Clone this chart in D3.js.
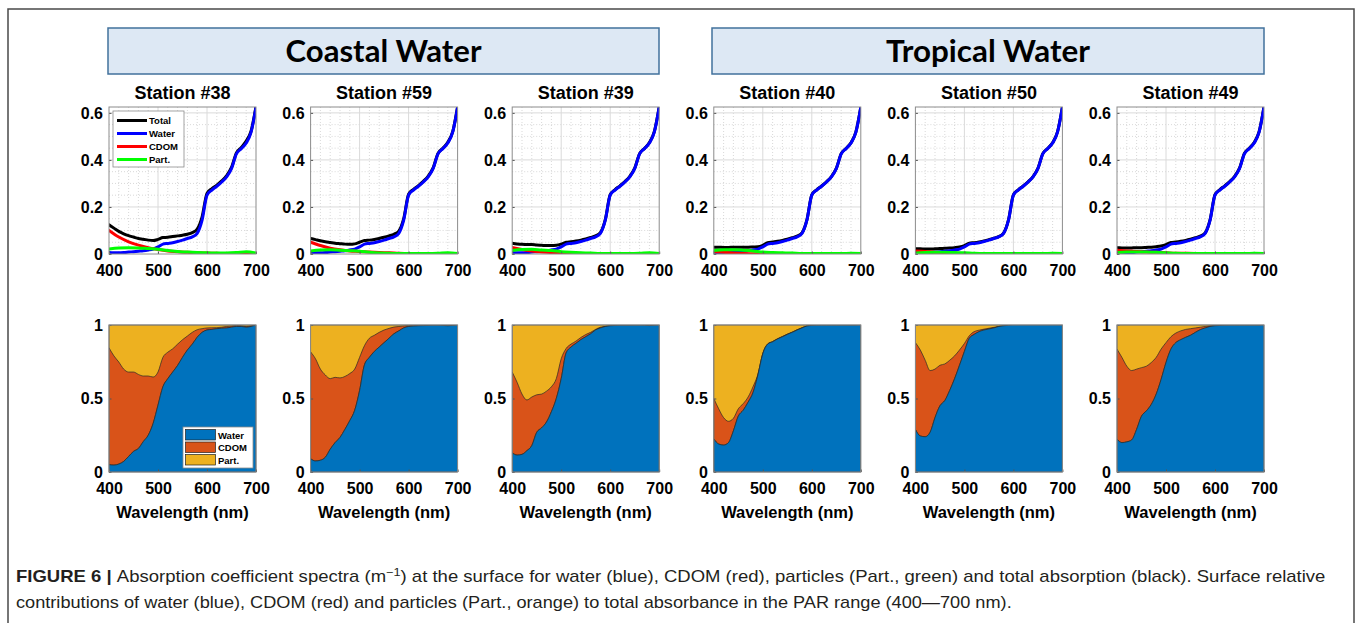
<!DOCTYPE html>
<html>
<head>
<meta charset="utf-8">
<script src="https://cdn.jsdelivr.net/npm/d3@7"></script>
<style>
  body { margin: 0; background: #fff; }
</style>
</head>
<body>
<div id="chart-container"></div>
<script>
//Data

const groupNames = ["Coastal Water", "Tropical Water"];
const stationNames = ["Station #38", "Station #59", "Station #39", "Station #40", "Station #50", "Station #49"];

const wavelengths = [400, 410, 420, 430, 440, 450, 460, 470, 480, 490, 500, 510, 520, 530, 540, 550,
  560, 570, 580, 590, 600, 610, 620, 630, 640, 650, 660, 670, 680, 690, 700];
const wavelengthsCoarse = [400, 420, 440, 460, 480, 500, 520, 540, 560, 580, 600, 620, 640, 660, 680, 700];

const xTicks = [400, 500, 600, 700];
const yTicksAbs = [0, 0.2, 0.4, 0.6];
const yTicksFrac = [0, 0.5, 1];

// pure water absorption (same in all stations), m-1
const waterAbs = [0.006, 0.005, 0.005, 0.006, 0.008, 0.010, 0.012, 0.014, 0.017, 0.021, 0.030, 0.042, 0.045, 0.048, 0.053, 0.059,
  0.066, 0.073, 0.088, 0.144, 0.250, 0.272, 0.288, 0.306, 0.328, 0.363, 0.426, 0.448, 0.472, 0.518, 0.624];

// total absorption per station
const total38 = [0.124, 0.110, 0.096, 0.086, 0.078, 0.072, 0.066, 0.063, 0.059, 0.057, 0.062, 0.070, 0.071, 0.074, 0.077, 0.080,
  0.084, 0.091, 0.106, 0.158, 0.258, 0.278, 0.293, 0.311, 0.333, 0.368, 0.430, 0.453, 0.480, 0.523, 0.627];
const total59 = [0.066, 0.061, 0.056, 0.052, 0.049, 0.046, 0.044, 0.042, 0.041, 0.043, 0.050, 0.057, 0.059, 0.062, 0.066, 0.071,
  0.077, 0.084, 0.097, 0.150, 0.254, 0.275, 0.291, 0.309, 0.331, 0.366, 0.428, 0.450, 0.475, 0.520, 0.626];
const total39 = [0.046, 0.043, 0.041, 0.040, 0.040, 0.038, 0.037, 0.036, 0.036, 0.037, 0.042, 0.050, 0.052, 0.055, 0.059, 0.064,
  0.070, 0.077, 0.091, 0.146, 0.252, 0.274, 0.290, 0.308, 0.330, 0.365, 0.427, 0.449, 0.474, 0.520, 0.625];
const total40 = [0.029, 0.029, 0.028, 0.028, 0.029, 0.029, 0.029, 0.029, 0.030, 0.031, 0.037, 0.048, 0.051, 0.054, 0.058, 0.063,
  0.069, 0.076, 0.090, 0.145, 0.251, 0.273, 0.289, 0.307, 0.329, 0.364, 0.427, 0.449, 0.473, 0.519, 0.625];
const total50 = [0.022, 0.022, 0.021, 0.021, 0.022, 0.023, 0.024, 0.025, 0.027, 0.030, 0.036, 0.046, 0.048, 0.051, 0.055, 0.061,
  0.067, 0.074, 0.089, 0.145, 0.251, 0.273, 0.289, 0.307, 0.329, 0.364, 0.427, 0.449, 0.473, 0.519, 0.625];
const total49 = [0.027, 0.026, 0.025, 0.026, 0.027, 0.027, 0.028, 0.029, 0.031, 0.034, 0.040, 0.049, 0.051, 0.054, 0.058, 0.063,
  0.069, 0.076, 0.090, 0.146, 0.252, 0.274, 0.290, 0.308, 0.330, 0.365, 0.428, 0.450, 0.474, 0.520, 0.626];

// CDOM absorption per station (20 nm steps)
const cdom38 = [0.100, 0.072, 0.052, 0.038, 0.027, 0.019, 0.013, 0.010, 0.007, 0.005, 0.004, 0.003, 0.002, 0.002, 0.003, 0.001];
const cdom59 = [0.050, 0.036, 0.025, 0.018, 0.013, 0.011, 0.008, 0.006, 0.005, 0.003, 0.002, 0.002, 0.001, 0.001, 0.002, 0.001];
const cdom39 = [0.028, 0.019, 0.013, 0.009, 0.006, 0.005, 0.002, 0.001, 0.001, 0.001, 0.001, 0.001, 0.001, 0.001, 0.002, 0.001];
const cdom40 = [0.010, 0.007, 0.004, 0.002, 0.001, 0.001, 0.001, 0.001, 0.000, 0.000, 0.000, 0.000, 0.000, 0.000, 0.001, 0.000];
const cdom50 = [0.013, 0.011, 0.0075, 0.006, 0.0042, 0.002, 0.001, 0.0005, 0.000, 0.000, 0.000, 0.000, 0.000, 0.000, 0.000, 0.000];
const cdom49 = [0.016, 0.013, 0.011, 0.0085, 0.0075, 0.0055, 0.0035, 0.003, 0.002, 0.001, 0.001, 0.000, 0.000, 0.000, 0.001, 0.000];

// particle absorption per station (20 nm steps)
const part38 = [0.021, 0.025, 0.027, 0.026, 0.023, 0.020, 0.015, 0.011, 0.008, 0.006, 0.005, 0.004, 0.004, 0.006, 0.010, 0.004];
const part59 = [0.013, 0.017, 0.018, 0.016, 0.014, 0.012, 0.007, 0.004, 0.003, 0.002, 0.002, 0.002, 0.002, 0.003, 0.005, 0.002];
const part39 = [0.015, 0.019, 0.020, 0.017, 0.015, 0.010, 0.007, 0.005, 0.004, 0.002, 0.002, 0.002, 0.002, 0.003, 0.005, 0.002];
const part40 = [0.015, 0.018, 0.018, 0.016, 0.013, 0.008, 0.006, 0.005, 0.004, 0.002, 0.002, 0.002, 0.002, 0.002, 0.003, 0.002];
const part50 = [0.004, 0.006, 0.007, 0.007, 0.006, 0.005, 0.003, 0.002, 0.002, 0.002, 0.002, 0.002, 0.002, 0.002, 0.003, 0.002];
const part49 = [0.006, 0.008, 0.009, 0.008, 0.007, 0.005, 0.003, 0.002, 0.002, 0.002, 0.002, 0.002, 0.002, 0.002, 0.003, 0.002];

// relative contributions: water share, and water+CDOM share (rest is particles)
const waterFrac38 = [0.050, 0.047, 0.054, 0.072, 0.106, 0.140, 0.160, 0.207, 0.250, 0.330, 0.455, 0.580, 0.635, 0.680, 0.725, 0.780,
  0.830, 0.870, 0.917, 0.950, 0.966, 0.970, 0.975, 0.978, 0.980, 0.985, 0.990, 0.990, 0.985, 0.990, 1.000];
const cdomTop38 = [0.845, 0.790, 0.748, 0.700, 0.680, 0.680, 0.664, 0.653, 0.653, 0.646, 0.680, 0.780, 0.815, 0.838, 0.870, 0.900,
  0.925, 0.950, 0.968, 0.975, 0.980, 0.981, 0.982, 0.985, 0.990, 0.993, 0.997, 0.995, 0.990, 0.995, 1.000];
const waterFrac59 = [0.090, 0.075, 0.080, 0.100, 0.155, 0.200, 0.235, 0.290, 0.350, 0.420, 0.555, 0.730, 0.780, 0.820, 0.850, 0.880,
  0.910, 0.940, 0.960, 0.980, 0.990, 0.993, 0.995, 0.996, 0.997, 0.998, 0.998, 0.997, 0.995, 0.997, 1.000];
const cdomTop59 = [0.817, 0.770, 0.700, 0.660, 0.635, 0.644, 0.640, 0.650, 0.670, 0.700, 0.780, 0.860, 0.910, 0.930, 0.950, 0.966,
  0.977, 0.986, 0.990, 0.994, 0.997, 0.998, 0.998, 0.998, 0.998, 0.999, 0.999, 0.998, 0.996, 0.998, 1.000];
const waterFrac39 = [0.130, 0.115, 0.120, 0.145, 0.180, 0.270, 0.300, 0.340, 0.410, 0.500, 0.635, 0.810, 0.850, 0.875, 0.900, 0.920,
  0.940, 0.966, 0.980, 0.990, 0.995, 0.997, 0.998, 0.998, 0.998, 0.999, 0.999, 0.998, 0.996, 0.998, 1.000];
const cdomTop39 = [0.680, 0.610, 0.530, 0.490, 0.510, 0.525, 0.530, 0.550, 0.580, 0.635, 0.770, 0.840, 0.870, 0.890, 0.915, 0.935,
  0.950, 0.970, 0.985, 0.990, 0.997, 0.998, 0.998, 0.999, 0.999, 0.999, 0.999, 0.998, 0.994, 0.998, 1.000];
const waterFrac40 = [0.225, 0.190, 0.183, 0.200, 0.280, 0.380, 0.420, 0.475, 0.540, 0.660, 0.805, 0.870, 0.886, 0.905, 0.920, 0.936,
  0.950, 0.966, 0.980, 0.993, 0.997, 0.998, 0.999, 0.999, 0.999, 0.999, 0.999, 0.999, 0.999, 0.999, 1.000];
const cdomTop40 = [0.500, 0.430, 0.370, 0.345, 0.365, 0.430, 0.465, 0.510, 0.580, 0.665, 0.808, 0.872, 0.888, 0.907, 0.922, 0.938,
  0.952, 0.968, 0.982, 0.994, 0.998, 0.999, 0.999, 0.999, 0.999, 0.999, 0.999, 0.999, 0.999, 0.999, 1.000];
const waterFrac50 = [0.290, 0.245, 0.240, 0.270, 0.370, 0.450, 0.486, 0.555, 0.635, 0.726, 0.820, 0.910, 0.936, 0.955, 0.966, 0.973,
  0.980, 0.990, 0.995, 0.998, 1.000, 1.000, 1.000, 1.000, 1.000, 1.000, 1.000, 1.000, 1.000, 1.000, 1.000];
const cdomTop50 = [0.880, 0.830, 0.760, 0.690, 0.700, 0.726, 0.735, 0.760, 0.790, 0.830, 0.874, 0.927, 0.955, 0.965, 0.972, 0.978,
  0.984, 0.990, 0.995, 0.998, 1.000, 1.000, 1.000, 1.000, 1.000, 1.000, 1.000, 1.000, 1.000, 1.000, 1.000];
const waterFrac49 = [0.223, 0.200, 0.205, 0.218, 0.290, 0.380, 0.416, 0.460, 0.530, 0.630, 0.745, 0.836, 0.880, 0.900, 0.916, 0.930,
  0.950, 0.968, 0.980, 0.990, 0.995, 0.997, 0.998, 0.999, 0.999, 0.999, 0.999, 0.999, 0.999, 0.999, 1.000];
const cdomTop49 = [0.836, 0.780, 0.720, 0.690, 0.700, 0.710, 0.720, 0.745, 0.780, 0.836, 0.880, 0.920, 0.945, 0.960, 0.970, 0.975,
  0.980, 0.985, 0.990, 0.995, 0.997, 0.998, 0.999, 0.999, 0.999, 0.999, 0.999, 0.999, 0.999, 0.999, 1.000];

//Table of panels built from the arrays above

const panels = [
  { name: stationNames[0], total: total38, cdom: cdom38, part: part38, waterFrac: waterFrac38, cdomTop: cdomTop38 },
  { name: stationNames[1], total: total59, cdom: cdom59, part: part59, waterFrac: waterFrac59, cdomTop: cdomTop59 },
  { name: stationNames[2], total: total39, cdom: cdom39, part: part39, waterFrac: waterFrac39, cdomTop: cdomTop39 },
  { name: stationNames[3], total: total40, cdom: cdom40, part: part40, waterFrac: waterFrac40, cdomTop: cdomTop40 },
  { name: stationNames[4], total: total50, cdom: cdom50, part: part50, waterFrac: waterFrac50, cdomTop: cdomTop50 },
  { name: stationNames[5], total: total49, cdom: cdom49, part: part49, waterFrac: waterFrac49, cdomTop: cdomTop49 }
];

//Layout constants

const W = 1358, H = 623;
const plotSize = 147;
const firstLeft = 109, panelStep = 201.6;
const topRowY = 107, bottomRowY = 325;
const font = "'Liberation Sans', Arial, sans-serif";

const lineColors = { total: "#000000", water: "#0000ff", cdom: "#ff0000", part: "#00ff00" };
const areaColors = { water: "#0072bd", cdom: "#d95319", part: "#edb120" };

//Scales (shared by every panel, drawn in local panel coordinates)

const xScale = d3.scaleLinear().domain([400, 700]).range([0, plotSize]);
const yAbs = d3.scaleLinear().domain([0, 0.625]).range([plotSize, 0]);
const yFrac = d3.scaleLinear().domain([0, 1]).range([plotSize, 0]);

const svg = d3.select("#chart-container")
  .append("svg")
  .attr("width", W)
  .attr("height", H)
  .style("display", "block");

svg.append("defs").append("clipPath")
  .attr("id", "plotClip")
  .append("rect")
  .attr("x", 0).attr("y", 0)
  .attr("width", plotSize).attr("height", plotSize);

//Outer figure frame (open at the bottom)

svg.append("path")
  .attr("d", `M8,${H} V9 H1354 V${H}`)
  .attr("fill", "none")
  .attr("stroke", "#4a4a4a")
  .attr("stroke-width", 1.5);

//Group header boxes

const headerBoxes = [
  { x: 108, w: 551, textW: 196 },
  { x: 712, w: 552, textW: 204 }
];

headerBoxes.forEach((b, i) => {
  svg.append("rect")
    .attr("x", b.x).attr("y", 28)
    .attr("width", b.w).attr("height", 46)
    .attr("fill", "#dde8f4")
    .attr("stroke", "#41719c")
    .attr("stroke-width", 1.5);

  const t = svg.append("text")
    .attr("x", 0).attr("y", 0)
    .style("font-family", "Lato, 'Open Sans', sans-serif")
    .style("font-weight", "bold")
    .style("font-size", "30px")
    .attr("text-anchor", "middle")
    .text(groupNames[i]);
  const k = b.textW / t.node().getComputedTextLength();
  t.attr("transform", `translate(${b.x + b.w / 2},62) scale(${k},1)`);
});

//Line generators

const absLine = d3.line()
  .x(d => xScale(d.x))
  .y(d => yAbs(d.y))
  .curve(d3.curveMonotoneX);

const toPoints = (xs, ys) => xs.map((x, i) => ({ x: x, y: ys[i] }));

//Draw one panel per station

panels.forEach((p, i) => {
  const left = firstLeft + i * panelStep;

  //---------- top row: absorption spectra ----------

  const gTop = svg.append("g").attr("transform", `translate(${left},${topRowY})`);

  gTop.append("rect")
    .attr("width", plotSize).attr("height", plotSize)
    .attr("fill", "#fff");

  // minor gridlines (dotted)
  gTop.selectAll(".xMinor")
    .data(xScale.ticks(15).filter(d => d % 100 !== 0))
    .join("line")
    .attr("x1", d => xScale(d)).attr("x2", d => xScale(d))
    .attr("y1", 0).attr("y2", plotSize)
    .attr("stroke", "#c8c8c8").attr("stroke-width", 0.7)
    .attr("stroke-dasharray", "1,2");

  gTop.selectAll(".yMinor")
    .data(yAbs.ticks(12).filter(d => Math.abs(d * 5 - Math.round(d * 5)) > 1e-6))
    .join("line")
    .attr("x1", 0).attr("x2", plotSize)
    .attr("y1", d => yAbs(d)).attr("y2", d => yAbs(d))
    .attr("stroke", "#c8c8c8").attr("stroke-width", 0.7)
    .attr("stroke-dasharray", "1,2");

  // major gridlines
  gTop.selectAll(".xMajor")
    .data(xTicks.slice(1, -1))
    .join("line")
    .attr("x1", d => xScale(d)).attr("x2", d => xScale(d))
    .attr("y1", 0).attr("y2", plotSize)
    .attr("stroke", "#dadada").attr("stroke-width", 1);

  gTop.selectAll(".yMajor")
    .data(yTicksAbs.slice(1))
    .join("line")
    .attr("x1", 0).attr("x2", plotSize)
    .attr("y1", d => yAbs(d)).attr("y2", d => yAbs(d))
    .attr("stroke", "#dadada").attr("stroke-width", 1);

  // spectra, clipped to the axes
  const lines = gTop.append("g").attr("clip-path", "url(#plotClip)");
  const series = [
    { key: "total", pts: toPoints(wavelengths, p.total) },
    { key: "water", pts: toPoints(wavelengths, waterAbs) },
    { key: "cdom", pts: toPoints(wavelengthsCoarse, p.cdom) },
    { key: "part", pts: toPoints(wavelengthsCoarse, p.part) }
  ];
  lines.selectAll("path")
    .data(series)
    .join("path")
    .attr("d", d => absLine(d.pts))
    .attr("fill", "none")
    .attr("stroke", d => lineColors[d.key])
    .attr("stroke-width", 3)
    .attr("stroke-linejoin", "round")
    .attr("stroke-linecap", "round");

  drawAxes(gTop, yAbs, yTicksAbs, d => d === 0 ? "0" : d3.format(".1f")(d));

  // station title
  svg.append("text")
    .attr("x", left + plotSize / 2)
    .attr("y", 99)
    .attr("text-anchor", "middle")
    .style("font-family", font)
    .style("font-weight", "bold")
    .style("font-size", "18px")
    .text(p.name);

  //---------- bottom row: relative contributions ----------

  const gBot = svg.append("g").attr("transform", `translate(${left},${bottomRowY})`);

  gBot.append("rect")
    .attr("width", plotSize).attr("height", plotSize)
    .attr("fill", areaColors.part)
    .attr("stroke", "#222").attr("stroke-width", 0.6);

  const cdomArea = d3.area()
    .x((d, j) => xScale(wavelengths[j]))
    .y0((d, j) => yFrac(p.waterFrac[j]))
    .y1(d => yFrac(d))
    .curve(d3.curveMonotoneX);

  const waterArea = d3.area()
    .x((d, j) => xScale(wavelengths[j]))
    .y0(yFrac(0))
    .y1(d => yFrac(d))
    .curve(d3.curveMonotoneX);

  const areas = gBot.append("g").attr("clip-path", "url(#plotClip)");

  areas.append("path")
    .attr("d", cdomArea(p.cdomTop))
    .attr("fill", areaColors.cdom)
    .attr("stroke", "#2a2a2a")
    .attr("stroke-width", 0.7);

  areas.append("path")
    .attr("d", waterArea(p.waterFrac))
    .attr("fill", areaColors.water)
    .attr("stroke", "#2a2a2a")
    .attr("stroke-width", 0.7);

  drawAxes(gBot, yFrac, yTicksFrac, d => d3.format("")(d));

  // x axis title
  svg.append("text")
    .attr("x", left + plotSize / 2)
    .attr("y", 518)
    .attr("text-anchor", "middle")
    .style("font-family", font)
    .style("font-weight", "bold")
    .style("font-size", "16.5px")
    .text("Wavelength (nm)");
});

//Axes, box and tick labels for one panel

function drawAxes(g, yScale, yTickValues, yFormat) {
  g.append("g")
    .attr("transform", `translate(0,${plotSize})`)
    .call(d3.axisBottom(xScale).tickValues(xTicks).tickSize(-2.5).tickPadding(11))
    .call(ax => ax.select(".domain").remove())
    .call(ax => ax.selectAll(".tick line").attr("stroke", "#555"))
    .call(ax => ax.selectAll(".tick text")
      .attr("fill", "#000")
      .style("font-family", font)
      .style("font-weight", "bold")
      .style("font-size", "16px"));

  g.append("g")
    .call(d3.axisLeft(yScale).tickValues(yTickValues).tickFormat(yFormat).tickSize(-2.5).tickPadding(6))
    .call(ax => ax.select(".domain").remove())
    .call(ax => ax.selectAll(".tick line").attr("stroke", "#555"))
    .call(ax => ax.selectAll(".tick text")
      .attr("fill", "#000")
      .style("font-family", font)
      .style("font-weight", "bold")
      .style("font-size", "16px"));

  g.append("rect")
    .attr("width", plotSize).attr("height", plotSize)
    .attr("fill", "none")
    .attr("stroke", "#8c8c8c")
    .attr("stroke-width", 1);
}

//Legends (first station only)

const legTop = svg.append("g").attr("transform", `translate(${firstLeft + 4},${topRowY + 4})`);
legTop.append("rect")
  .attr("width", 71).attr("height", 56)
  .attr("fill", "#fff")
  .attr("stroke", "#8c8c8c").attr("stroke-width", 0.8);

const legendLines = [
  { key: "total", label: "Total" },
  { key: "water", label: "Water" },
  { key: "cdom", label: "CDOM" },
  { key: "part", label: "Part." }
];

legendLines.forEach((d, i) => {
  const y = 9.5 + i * 13;
  legTop.append("line")
    .attr("x1", 4).attr("x2", 34)
    .attr("y1", y).attr("y2", y)
    .attr("stroke", lineColors[d.key])
    .attr("stroke-width", 3);
  legTop.append("text")
    .attr("x", 36).attr("y", y + 3.5)
    .style("font-family", font)
    .style("font-weight", "bold")
    .style("font-size", "9.5px")
    .text(d.label);
});

const legBot = svg.append("g").attr("transform", `translate(${firstLeft + 74},${bottomRowY + 102})`);
legBot.append("rect")
  .attr("width", 70).attr("height", 41)
  .attr("fill", "#fff")
  .attr("stroke", "#8c8c8c").attr("stroke-width", 0.8);

const legendAreas = [
  { key: "water", label: "Water" },
  { key: "cdom", label: "CDOM" },
  { key: "part", label: "Part." }
];

legendAreas.forEach((d, i) => {
  const y = 2.5 + i * 12.5;
  legBot.append("rect")
    .attr("x", 2.5).attr("y", y)
    .attr("width", 30).attr("height", 10.5)
    .attr("fill", areaColors[d.key])
    .attr("stroke", "#222").attr("stroke-width", 0.7);
  legBot.append("text")
    .attr("x", 35).attr("y", y + 9)
    .style("font-family", font)
    .style("font-weight", "bold")
    .style("font-size", "9.5px")
    .text(d.label);
});

//Figure caption

const captionLines = [
  { y: 582, w: 1310 },
  { y: 608, w: 996 }
];

const cap1 = svg.append("text")
  .style("font-family", font)
  .style("font-size", "16px")
  .attr("fill", "#231f20");
cap1.append("tspan").style("font-weight", "bold").text("FIGURE 6 | ");
cap1.append("tspan").text("Absorption coefficient spectra (m");
cap1.append("tspan").attr("dy", -6).style("font-size", "11px").text("\u22121");
cap1.append("tspan").attr("dy", 6).text(") at the surface for water (blue), CDOM (red), particles (Part., green) and total absorption (black). Surface relative");

const cap2 = svg.append("text")
  .style("font-family", font)
  .style("font-size", "16px")
  .attr("fill", "#231f20")
  .text("contributions of water (blue), CDOM (red) and particles (Part., orange) to total absorbance in the PAR range (400\u2014700 nm).");

[cap1, cap2].forEach((t, i) => {
  const k = captionLines[i].w / t.node().getComputedTextLength();
  t.attr("transform", `translate(16,${captionLines[i].y}) scale(${k},1)`);
});
</script>
</body>
</html>
